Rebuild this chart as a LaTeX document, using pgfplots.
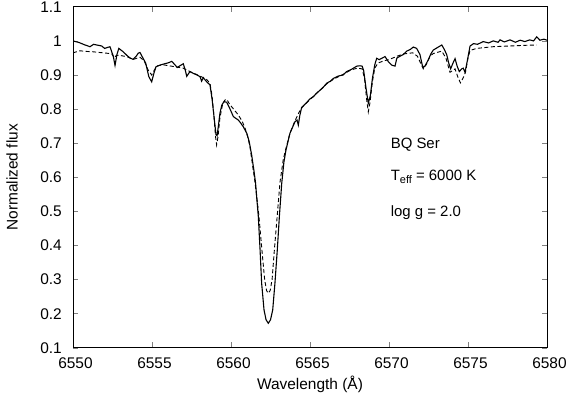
\documentclass[border=0pt]{standalone}
\usepackage{fontspec}
\setmainfont{Liberation Sans}
\usepackage{pgfplots}
\pgfplotsset{compat=1.18}

% observed spectrum (solid) and synthetic fit (dashed)
\pgfplotstableread{
lam flux
6550.00 1.000
6550.40 0.995
6550.76 0.988
6551.08 0.983
6551.30 0.990
6551.50 0.988
6551.82 0.985
6552.00 0.978
6552.34 0.983
6552.55 0.955
6552.66 0.928
6552.78 0.960
6552.90 0.978
6553.18 0.968
6553.40 0.958
6553.60 0.950
6553.80 0.946
6554.00 0.955
6554.13 0.964
6554.24 0.966
6554.40 0.952
6554.60 0.935
6554.80 0.895
6554.98 0.880
6555.12 0.905
6555.25 0.924
6555.50 0.929
6555.80 0.933
6556.05 0.936
6556.25 0.940
6556.45 0.930
6556.60 0.922
6556.80 0.928
6556.98 0.933
6557.10 0.915
6557.20 0.896
6557.40 0.910
6557.60 0.905
6557.85 0.900
6558.04 0.895
6558.14 0.882
6558.25 0.892
6558.46 0.880
6558.67 0.871
6558.80 0.830
6558.92 0.780
6559.05 0.725
6559.12 0.722
6559.20 0.750
6559.30 0.788
6559.42 0.812
6559.56 0.822
6559.73 0.820
6559.94 0.800
6560.15 0.778
6560.30 0.773
6560.46 0.768
6560.60 0.760
6560.78 0.748
6561.00 0.729
6561.15 0.705
6561.31 0.665
6561.45 0.620
6561.55 0.585
6561.73 0.484
6561.84 0.387
6561.94 0.289
6562.09 0.211
6562.22 0.182
6562.36 0.172
6562.50 0.182
6562.64 0.211
6562.78 0.289
6562.93 0.387
6563.06 0.484
6563.21 0.582
6563.35 0.645
6563.48 0.680
6563.73 0.729
6564.05 0.763
6564.18 0.768
6564.26 0.753
6564.35 0.780
6564.47 0.805
6564.70 0.815
6565.00 0.830
6565.20 0.836
6565.50 0.850
6565.80 0.862
6566.06 0.876
6566.30 0.882
6566.48 0.890
6566.80 0.897
6567.10 0.900
6567.32 0.910
6567.60 0.916
6567.96 0.926
6568.16 0.927
6568.30 0.926
6568.40 0.912
6568.55 0.860
6568.69 0.817
6568.82 0.840
6568.95 0.890
6569.10 0.930
6569.22 0.949
6569.38 0.945
6569.54 0.949
6569.75 0.954
6569.96 0.939
6570.17 0.929
6570.38 0.926
6570.50 0.950
6570.70 0.955
6570.90 0.960
6571.12 0.970
6571.35 0.975
6571.54 0.982
6571.75 0.978
6571.96 0.960
6572.10 0.930
6572.17 0.922
6572.30 0.928
6572.49 0.945
6572.65 0.962
6572.80 0.973
6573.05 0.980
6573.34 0.988
6573.50 0.975
6573.65 0.960
6573.78 0.935
6573.90 0.918
6574.05 0.935
6574.18 0.948
6574.32 0.925
6574.45 0.910
6574.60 0.918
6574.70 0.920
6574.81 0.908
6574.95 0.940
6575.13 0.985
6575.35 0.992
6575.60 0.990
6575.97 0.998
6576.30 0.994
6576.60 1.000
6576.90 0.996
6577.03 1.003
6577.30 0.997
6577.66 1.003
6578.00 0.996
6578.30 1.002
6578.60 0.998
6578.90 1.003
6579.15 1.000
6579.35 1.012
6579.55 1.002
6579.80 1.005
6580.00 1.002
}\observed

\pgfplotstableread{
lam flux
6550.00 0.965
6550.44 0.971
6550.90 0.969
6551.28 0.968
6551.70 0.966
6552.13 0.964
6552.45 0.962
6552.62 0.950
6552.75 0.958
6553.00 0.957
6553.40 0.954
6553.82 0.946
6554.24 0.952
6554.50 0.942
6554.75 0.915
6554.98 0.900
6555.15 0.915
6555.35 0.927
6555.70 0.930
6556.35 0.925
6556.98 0.920
6557.40 0.910
6557.80 0.902
6558.20 0.893
6558.50 0.885
6558.67 0.875
6558.80 0.840
6558.92 0.780
6559.02 0.720
6559.09 0.695
6559.18 0.720
6559.30 0.775
6559.45 0.810
6559.60 0.826
6559.73 0.829
6559.90 0.815
6560.04 0.807
6560.25 0.795
6560.46 0.783
6560.70 0.765
6560.89 0.744
6561.05 0.720
6561.20 0.690
6561.35 0.640
6561.52 0.585
6561.76 0.490
6561.95 0.390
6562.13 0.300
6562.25 0.268
6562.36 0.260
6562.48 0.268
6562.60 0.300
6562.75 0.390
6562.93 0.490
6563.10 0.585
6563.30 0.650
6563.45 0.680
6563.73 0.729
6564.05 0.766
6564.30 0.790
6564.50 0.805
6565.00 0.828
6565.50 0.850
6566.06 0.874
6566.50 0.888
6567.10 0.902
6567.60 0.915
6568.00 0.920
6568.30 0.918
6568.45 0.890
6568.58 0.830
6568.69 0.792
6568.80 0.820
6568.95 0.880
6569.10 0.920
6569.30 0.935
6569.70 0.942
6570.00 0.945
6570.50 0.955
6570.95 0.962
6571.50 0.965
6571.80 0.955
6572.00 0.935
6572.17 0.918
6572.35 0.930
6572.60 0.955
6572.80 0.963
6573.34 0.970
6573.60 0.950
6573.86 0.908
6574.00 0.912
6574.18 0.918
6574.35 0.895
6574.52 0.877
6574.70 0.892
6574.85 0.910
6575.00 0.950
6575.13 0.972
6575.55 0.978
6576.60 0.983
6577.60 0.985
6578.60 0.987
6579.35 0.988
}\synthetic

\begin{document}
\begin{tikzpicture}
\begin{axis}[
  at={(73bp,49.2bp)}, anchor=south west,
  scale only axis, width=474bp, height=341bp,
  xmin=6550, xmax=6580, ymin=0.1, ymax=1.1,
  xtick={6550,6555,...,6580},
  ytick={0.1,0.2,...,1.1},
  tick align=inside,
  major tick length=5.5bp,
  axis line style={line width=0.8bp},
  tick style={line width=0.6bp},
  font=\fontsize{15.5}{18}\selectfont,
  /pgf/number format/assume math mode=true,
  /pgf/number format/.cd, set thousands separator={}, /pgfplots/.cd,
  yticklabel style={anchor=east, inner sep=0pt, xshift=-11bp},
  xticklabel style={anchor=north, inner sep=0pt, yshift=-9.5bp, xshift=2.5bp},
  xlabel={Wavelength (Å)},
  ylabel={Normalized flux},
  xlabel style={at={(axis description cs:0.5,0)}, anchor=center, yshift=-37bp},
  ylabel style={at={(axis description cs:0,0.5)}, anchor=center, yshift=61bp},
  clip=true,
]
\addplot[black, line width=1.1bp] table[x=lam, y=flux] {\observed};
\addplot[black, line width=0.9bp, dash pattern=on 4bp off 2.5bp] table[x=lam, y=flux] {\synthetic};
\begin{scope}[every node/.style={anchor=base west, inner sep=0pt, font=\fontsize{15}{18}\selectfont}]
\node at (axis cs:6570.1,0.685) {BQ Ser};
\node at (axis cs:6570.1,0.592) {T\raisebox{-0.45ex}{\fontsize{11}{13}\selectfont eff} = 6000 K};
\node at (axis cs:6570.1,0.485) {log g = 2.0};
\end{scope}
\end{axis}
\pgfresetboundingbox
\useasboundingbox (0,0) rectangle (568bp,397bp);
\end{tikzpicture}
\end{document}
